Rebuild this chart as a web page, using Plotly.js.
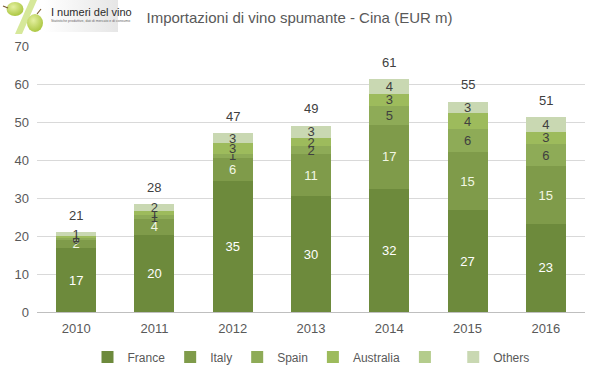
<!DOCTYPE html>
<html>
<head>
<meta charset="utf-8">
<script src="https://cdn.plot.ly/plotly-3.0.1.min.js"></script>
<style>html,body{margin:0;padding:0;background:#fff;}#chart{width:599px;height:378px;}</style>
</head>
<body>
<div id="chart"></div>
<script>
// ---- data ----
var years = ['2010', '2011', '2012', '2013', '2014', '2015', '2016'];
var france = [16.8, 20.3, 34.6, 30.4, 32.4, 26.8, 23.2];
var italy = [2.2, 4.2, 6.0, 11.1, 16.8, 15.2, 15.1];
var spain = [0.4, 1.0, 1.0, 2.1, 5.1, 6.1, 6.0];
var australia = [0.6, 1.1, 2.8, 2.2, 3.2, 4.2, 3.2];
var unnamed = [0, 0, 0, 0, 0, 0, 0];
var others = [1.0, 1.8, 2.6, 3.2, 3.8, 3.0, 3.8];
var seriesNames = ['France', 'Italy', 'Spain', 'Australia', ' ', 'Others'];

var series = [france, italy, spain, australia, unnamed, others];
var colors = ['#6d8a3c', '#7f9b4a', '#8eab57', '#9dbb5c', '#b4cc8c', '#c9d8b2'];
var labelColors = ['#ffffff', '#f2f7e4', '#404040', '#404040', '#404040', '#404040'];

var totals = years.map(function (_, i) {
  return series.reduce(function (s, arr) { return s + arr[i]; }, 0);
});

var font = 'Liberation Sans, Arial, sans-serif';

var traces = series.map(function (vals, k) {
  return {
    type: 'bar',
    name: seriesNames[k],
    x: years,
    y: vals,
    marker: { color: colors[k], line: { width: 0 } },
    texttemplate: k === 4 ? '' : '%{y:.0f}',
    textposition: 'inside',
    insidetextanchor: 'middle',
    textangle: 0,
    textfont: { family: font, size: 13, color: labelColors[k] },
    hoverinfo: 'x+y+name'
  };
});

var annotations = years.map(function (yr, i) {
  return {
    x: i, y: totals[i], xref: 'x', yref: 'y',
    text: String(Math.round(totals[i])),
    showarrow: false, yanchor: 'middle', yshift: 17,
    font: { family: font, size: 13, color: '#404040' }
  };
});

// logo text
annotations.push({
  xref: 'paper', yref: 'paper', x: (49 - 37) / 548, y: (312 - 12) / 266,
  xanchor: 'left', yanchor: 'middle', showarrow: false,
  text: 'I numeri del vino', font: { family: 'Liberation Sans Narrow, Liberation Sans, Arial', size: 11, color: '#2b2b2b' }
});
annotations.push({
  xref: 'paper', yref: 'paper', x: (49 - 37) / 548, y: (312 - 21) / 266,
  xanchor: 'left', yanchor: 'middle', showarrow: false,
  text: 'Statistiche produttive, dati di mercato e di consumo', font: { family: 'Liberation Sans, Arial', size: 3.5, color: '#666666' }
});

var logoSvg =
  '<svg xmlns="http://www.w3.org/2000/svg" width="118" height="34" viewBox="0 0 118 34">' +
  '<defs><linearGradient id="g" x1="0" x2="1" y1="0" y2="0">' +
  '<stop offset="0" stop-color="#ffffff"/><stop offset="1" stop-color="#e6e6e6"/></linearGradient>' +
  '<radialGradient id="r" cx="0.4" cy="0.35" r="0.7"><stop offset="0" stop-color="#e4f0a0"/><stop offset="1" stop-color="#a8c43c"/></radialGradient></defs>' +
  '<rect x="44" y="0" width="74" height="32" fill="url(#g)"/>' +
  '<polygon points="30,0 37,0 22,34 15,34" fill="#d6e89a"/>' +
  '<ellipse cx="15" cy="9" rx="8.5" ry="7" fill="url(#r)"/>' +
  '<ellipse cx="35" cy="23" rx="8" ry="9" fill="url(#r)"/>' +
  '<path d="M3 6 L8 8" stroke="#7a5a30" stroke-width="1.2"/>' +
  '<path d="M37 14 L41 9" stroke="#7a5a30" stroke-width="1.2"/>' +
  '</svg>';

var layout = {
  width: 599, height: 378,
  margin: { l: 37, r: 14, t: 46, b: 66, autoexpand: false },
  paper_bgcolor: '#ffffff', plot_bgcolor: '#ffffff',
  barmode: 'stack', bargap: 0.49,
  title: {
    text: 'Importazioni di vino spumante - Cina (EUR m)',
    x: 0.5, xanchor: 'center', y: 1 - 18 / 378, yanchor: 'middle',
    font: { family: font, size: 15, color: '#595959' }
  },
  xaxis: {
    type: 'category', showgrid: false, zeroline: false,
    showline: true, linecolor: '#bfbfbf', linewidth: 1,
    ticks: '', ticklabelstandoff: 4,
    tickfont: { family: font, size: 13, color: '#595959' }
  },
  yaxis: {
    range: [0, 70], dtick: 10, showgrid: true, gridcolor: '#d9d9d9', gridwidth: 1,
    zeroline: false, showline: false, ticks: '', ticklabelstandoff: 7,
    tickfont: { family: font, size: 13, color: '#595959' }
  },
  uniformtext: { mode: 'show', minsize: 13 },
  legend: {
    orientation: 'h', x: 0.5, xanchor: 'center', y: (312 - 357) / 266, yanchor: 'middle',
    traceorder: 'normal', font: { family: font, size: 12, color: '#595959' },
    itemwidth: 30
  },
  annotations: annotations,
  images: [{
    source: 'data:image/svg+xml;charset=utf-8,' + encodeURIComponent(logoSvg),
    xref: 'paper', yref: 'paper',
    x: -37 / 548, y: 312 / 266, sizex: 118 / 548, sizey: 34 / 266,
    xanchor: 'left', yanchor: 'top', sizing: 'stretch', layer: 'above'
  }],
  showlegend: true
};

Plotly.newPlot('chart', traces, layout, { displayModeBar: false, staticPlot: true });
</script>
</body>
</html>
